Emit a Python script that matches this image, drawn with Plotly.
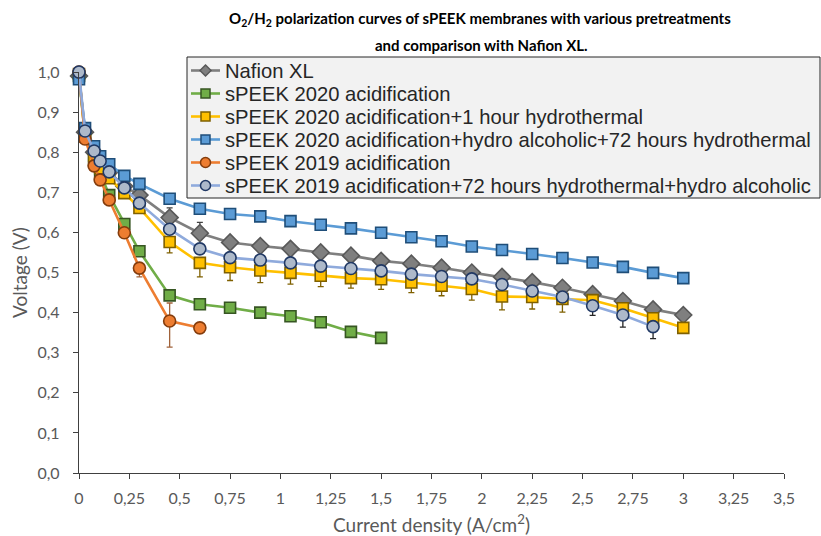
import plotly.graph_objects as go

# Current density grid (A/cm2) shared by all membranes
current = [0, 0.03, 0.075, 0.105, 0.15, 0.225, 0.3, 0.45, 0.6, 0.75, 0.9, 1.05, 1.2,
           1.35, 1.5, 1.65, 1.8, 1.95, 2.1, 2.25, 2.4, 2.55, 2.7, 2.85, 3.0]

# Cell voltage (V) per membrane
nafion_xl = [0.99, 0.85, 0.80, 0.775, 0.75, 0.715, 0.693, 0.637, 0.598, 0.575, 0.566, 0.559, 0.550,
             0.542, 0.529, 0.522, 0.512, 0.500, 0.489, 0.476, 0.462, 0.446, 0.429, 0.408, 0.394]
speek20_acid = [0.99, 0.84, 0.78, 0.748, 0.693, 0.621, 0.553, 0.443, 0.421, 0.412, 0.400, 0.391,
                0.376, 0.352, 0.337]
speek20_acid_1h = [0.995, 0.84, 0.79, 0.76, 0.735, 0.698, 0.661, 0.576, 0.524, 0.513, 0.505, 0.499,
                   0.492, 0.486, 0.483, 0.475, 0.467, 0.459, 0.440, 0.439, 0.434, 0.431, 0.411, 0.386, 0.362]
speek20_acid_ha_72h = [0.982, 0.86, 0.815, 0.79, 0.77, 0.741, 0.721, 0.684, 0.659, 0.646, 0.640, 0.628,
                       0.619, 0.610, 0.599, 0.588, 0.578, 0.565, 0.556, 0.546, 0.536, 0.525, 0.514, 0.499, 0.486]
speek19_acid = [1.0, 0.833, 0.766, 0.731, 0.681, 0.599, 0.511, 0.379, 0.362]
speek19_acid_72h_ha = [1.0, 0.853, 0.803, 0.778, 0.751, 0.711, 0.673, 0.608, 0.559, 0.537, 0.531, 0.524,
                       0.516, 0.510, 0.504, 0.496, 0.490, 0.484, 0.470, 0.454, 0.439, 0.417, 0.394, 0.365]

# Standard deviations (V)
nafion_err_plus = [0, 0, 0, 0, 0, 0, 0, 0.024, 0.027, 0, 0, 0, 0, 0, 0, 0, 0, 0, 0, 0, 0, 0, 0, 0, 0]
speek20_acid_err = [0, 0, 0, 0, 0, 0, 0, 0, 0, 0, 0, 0, 0, 0.012, 0]
speek20_acid_1h_err_minus = [0, 0, 0, 0, 0, 0, 0, 0.027, 0.035, 0.033, 0.030, 0.028, 0.027, 0.025,
                             0.025, 0.025, 0.025, 0.028, 0.033, 0.030, 0.033, 0, 0, 0, 0]
speek19_acid_err_plus = [0, 0, 0, 0, 0, 0, 0.008, 0.045, 0]
speek19_acid_err_minus = [0, 0, 0, 0, 0, 0, 0.022, 0.065, 0]
speek19_acid_72h_ha_err_minus = [0, 0, 0, 0, 0, 0, 0, 0, 0, 0, 0, 0, 0, 0, 0, 0, 0, 0, 0, 0,
                                 0.012, 0.024, 0.030, 0.030]

names = [
    "Nafion XL",
    "sPEEK 2020 acidification",
    "sPEEK 2020 acidification+1 hour hydrothermal",
    "sPEEK 2020 acidification+hydro alcoholic+72 hours hydrothermal",
    "sPEEK 2019 acidification",
    "sPEEK 2019 acidification+72 hours hydrothermal+hydro alcoholic",
]

# Figure geometry (pixels)
W, H = 821, 536
ML, MR, MT, MB = 79, 37, 72, 63
PW, PH = W - ML - MR, H - MT - MB


def paper_x(px):
    return (px - ML) / PW


def paper_y(py):
    return (H - MB - py) / PH


fig = go.Figure()
legend_styles = []


def add_curve(name, y, line_color, fill, edge, symbol, size, err, bar_color):
    fig.add_trace(go.Scatter(
        x=current[:len(y)], y=y, name=name, mode="lines+markers", showlegend=False,
        line=dict(color=line_color, width=2.6),
        marker=dict(symbol=symbol, size=size, color=fill, line=dict(color=edge, width=1.6)),
        error_y=dict(err, color=bar_color, thickness=1.3, width=3, visible=True) if err else None,
        cliponaxis=False,
    ))
    legend_styles.append((name, line_color, fill, edge, symbol))


add_curve(names[0], nafion_xl, "#7f7f7f", "#7f7f7f", "#595959", "diamond", 13,
          dict(type="data", symmetric=False, array=nafion_err_plus,
               arrayminus=[0] * len(nafion_err_plus)), "#404040")
add_curve(names[1], speek20_acid, "#70ad47", "#70ad47", "#375623", "square", 11,
          dict(type="data", array=speek20_acid_err), "#1f3864")
add_curve(names[2], speek20_acid_1h, "#ffc000", "#ffc000", "#7f6000", "square", 11,
          dict(type="data", symmetric=False, array=[0] * len(speek20_acid_1h_err_minus),
               arrayminus=speek20_acid_1h_err_minus), "#7f6000")
add_curve(names[3], speek20_acid_ha_72h, "#5b9bd5", "#5b9bd5", "#1f4e79", "square", 11, None, None)
add_curve(names[4], speek19_acid, "#ed7d31", "#ed7d31", "#843c0c", "circle", 12,
          dict(type="data", symmetric=False, array=speek19_acid_err_plus,
               arrayminus=speek19_acid_err_minus), "#a0623a")
add_curve(names[5], speek19_acid_72h_ha, "#8faadc", "#adb9ca", "#203864", "circle", 12,
          dict(type="data", symmetric=False, array=[0] * len(speek19_acid_72h_ha_err_minus),
               arrayminus=speek19_acid_72h_ha_err_minus), "#262626")

# Legend box drawn as shapes + annotations, Excel style
shapes = [dict(type="rect", xref="paper", yref="paper",
               x0=paper_x(187), x1=paper_x(820), y0=paper_y(198), y1=paper_y(57),
               fillcolor="#f2f2f2", line=dict(color="#262626", width=1), layer="above")]
annotations = []
row_top, row_step = 70.5, 23
for i, (name, line_color, fill, edge, symbol) in enumerate(legend_styles):
    ry = paper_y(row_top + i * row_step)
    shapes.append(dict(type="line", xref="paper", yref="paper",
                       x0=paper_x(191), x1=paper_x(220), y0=ry, y1=ry,
                       line=dict(color=line_color, width=2.6), layer="above"))
    mk = dict(xref="paper", yref="paper", xsizemode="pixel", ysizemode="pixel",
              xanchor=paper_x(205.5), yanchor=ry, fillcolor=fill,
              line=dict(color=edge, width=1.5), layer="above")
    if symbol == "diamond":
        mk.update(type="path", path="M 0,5.5 L 5.5,0 L 0,-5.5 L -5.5,0 Z")
    elif symbol == "circle":
        mk.update(type="circle", x0=-5, x1=5, y0=-5, y1=5)
    else:
        mk.update(type="rect", x0=-4.5, x1=4.5, y0=-4.5, y1=4.5)
    shapes.append(mk)
    annotations.append(dict(text=name, xref="paper", yref="paper", x=paper_x(223), y=ry,
                            xanchor="left", yanchor="middle", showarrow=False,
                            font=dict(family="Liberation Sans, Arial, sans-serif", size=20.2,
                                      color="#262626")))

# Two-line chart title
title_font = dict(family="Lato, Carlito, sans-serif", size=15, color="#000000", weight="bold")
annotations.append(dict(
    text="O<sub>2</sub>/H<sub>2</sub> polarization curves of sPEEK membranes with various pretreatments",
    xref="paper", yref="paper", x=paper_x(480), y=paper_y(19), xanchor="center", yanchor="middle",
    showarrow=False, font=title_font))
annotations.append(dict(
    text="and comparison with Nafion XL.",
    xref="paper", yref="paper", x=paper_x(481), y=paper_y(45), xanchor="center", yanchor="middle",
    showarrow=False, font=title_font))

tick_font = dict(family="Lato, Carlito, sans-serif", size=16, color="#595959")
label_font = dict(family="Lato, Carlito, sans-serif", size=19, color="#595959")

fig.update_layout(
    width=W, height=H,
    margin=dict(l=ML, r=MR, t=MT, b=MB, autoexpand=False),
    paper_bgcolor="white", plot_bgcolor="white",
    separators=", ",
    showlegend=False,
    shapes=shapes,
    annotations=annotations,
    xaxis=dict(
        range=[0, 3.5], dtick=0.25, tick0=0,
        showline=True, linecolor="#404040", linewidth=1.3,
        ticks="outside", ticklen=5, tickcolor="#404040",
        showgrid=False, zeroline=False,
        tickfont=tick_font, ticklabelstandoff=6,
        title=dict(text="Current density (A/cm<sup>2</sup>)", font=label_font, standoff=14),
    ),
    yaxis=dict(
        range=[0, 1], dtick=0.1, tick0=0, tickformat=".1f",
        showline=True, linecolor="#404040", linewidth=1.3,
        ticks="outside", ticklen=5, tickcolor="#404040",
        showgrid=False, zeroline=False,
        tickfont=tick_font, ticklabelstandoff=10,
        title=dict(text="Voltage (V)", font=label_font, standoff=4),
    ),
)

fig.write_html("out.html")
